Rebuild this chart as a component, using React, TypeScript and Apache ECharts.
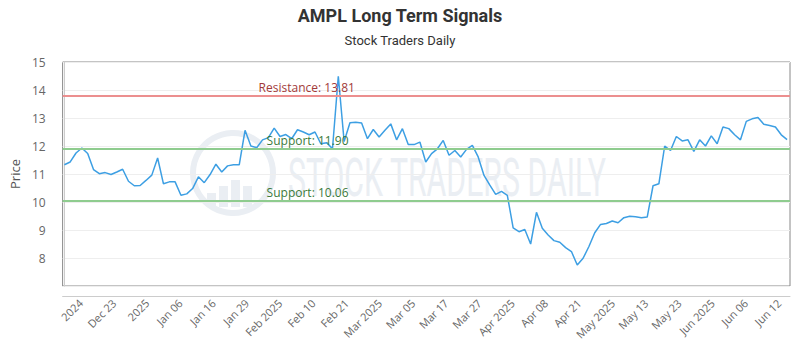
import React, { useEffect, useRef } from "react";
import * as echarts from "echarts";

const prices: number[] = [
  11.33, 11.43, 11.75, 11.93, 11.73, 11.16, 11.01, 11.05, 10.98, 11.07,
  11.17, 10.74, 10.58, 10.59, 10.77, 10.96, 11.57, 10.65, 10.72, 10.72,
  10.24, 10.29, 10.48, 10.9, 10.69, 10.98, 11.35, 11.07, 11.29, 11.33,
  11.33, 12.56, 12.0, 11.94, 12.22, 12.3, 12.64, 12.34, 12.41, 12.26,
  12.58, 12.5, 12.4, 12.5, 12.08, 12.12, 11.9, 14.49, 12.16, 12.83,
  12.85, 12.82, 12.26, 12.59, 12.32, 12.56, 12.79, 12.22, 12.62, 12.05,
  12.05, 12.14, 11.43, 11.73, 11.9, 12.2, 11.67, 11.84, 11.61, 11.88,
  12.02, 11.61, 10.95, 10.6, 10.27, 10.38, 10.24, 9.08, 8.94, 9.02,
  8.5, 9.63, 9.06, 8.82, 8.62, 8.56, 8.37, 8.23, 7.75, 7.99,
  8.41, 8.9, 9.2, 9.23, 9.32, 9.26, 9.44, 9.49, 9.47, 9.44,
  9.46, 10.58, 10.65, 12.0, 11.84, 12.34, 12.18, 12.22, 11.81, 12.22,
  12.0, 12.36, 12.08, 12.68, 12.62, 12.4, 12.22, 12.88, 12.97, 13.02,
  12.78, 12.73, 12.68, 12.4, 12.23,
];

const tickLabels: string[] = [
  "2024", "Dec 23", "2025", "Jan 06", "Jan 16", "Jan 29", "Feb 2025", "Feb 10",
  "Feb 21", "Mar 2025", "Mar 05", "Mar 17", "Mar 27", "Apr 2025", "Apr 08",
  "Apr 21", "May 2025", "May 13", "May 23", "Jun 2025", "Jun 06", "Jun 12",
];
const tickPositions: number[] = [
  2.8, 8.5, 14.2, 19.9, 25.6, 31.3, 37.0, 42.7, 48.4, 54.1, 59.8, 65.5,
  71.2, 76.9, 82.6, 88.3, 94.1, 99.8, 105.5, 111.2, 116.9, 122.6,
];

const resistance = 13.81;
const supports: number[] = [11.9, 10.06];

export default function App() {
  const ref = useRef<HTMLDivElement>(null);
  useEffect(() => {
    document.body.style.margin = "0";
    if (!ref.current) return;
    const chart = echarts.init(ref.current, null, { renderer: "svg" });
    const font = "'Open Sans', 'Noto Sans', sans-serif";
    chart.setOption({
      animation: false,
      backgroundColor: "#fff",
      textStyle: { fontFamily: font },
      title: {
        text: "AMPL Long Term Signals",
        subtext: "Stock Traders Daily",
        left: "center",
        top: 1,
        itemGap: 10,
        textStyle: {
          fontFamily: "'Liberation Sans Narrow', 'Roboto', sans-serif",
          fontSize: 18,
          fontWeight: "bold",
          color: "#333",
        },
        subtextStyle: {
          fontFamily: "'Liberation Sans Narrow', 'Roboto', sans-serif",
          fontSize: 13,
          color: "#333",
        },
      },
      graphic: [
        {
          type: "group",
          silent: true,
          z: -1,
          children: [
            {
              type: "circle",
              shape: { cx: 233, cy: 173, r: 40 },
              style: { fill: "none", stroke: "#eaeef3", lineWidth: 6 },
            },
            { type: "rect", shape: { x: 207, y: 193, width: 9, height: 14 }, style: { fill: "#eaeef3" } },
            { type: "rect", shape: { x: 219, y: 186, width: 9, height: 21 }, style: { fill: "#eaeef3" } },
            { type: "rect", shape: { x: 231, y: 180, width: 9, height: 27 }, style: { fill: "#eaeef3" } },
            { type: "rect", shape: { x: 243, y: 186, width: 9, height: 21 }, style: { fill: "#eaeef3" } },
            {
              type: "text",
              x: 288,
              y: 150,
              scaleX: 0.56,
              style: {
                text: "STOCK TRADERS DAILY",
                font: "54px 'Roboto', sans-serif",
                fill: "#eaeef3",
                textVerticalAlign: "top",
              },
            },
          ],
        },
      ],
      grid: {
        left: 60,
        top: 62,
        width: 730,
        height: 224,
        show: true,
        borderColor: "#888",
        borderWidth: 1,
        backgroundColor: "transparent",
      },
      xAxis: {
        type: "value",
        min: -0.3,
        max: 124.5,
        offset: 10,
        axisLine: { show: true, onZero: false, lineStyle: { color: "#ccc" } },
        axisTick: { show: false },
        splitLine: { show: false },
        axisLabel: {
          customValues: tickPositions,
          rotate: 45,
          margin: 5,
          fontSize: 11,
          color: "#666",
          formatter: (v: number) => {
            const i = tickPositions.findIndex((p) => Math.abs(p - v) < 0.05);
            return i >= 0 ? tickLabels[i] : "";
          },
        },
      },
      yAxis: {
        type: "value",
        min: 7,
        max: 15,
        interval: 1,
        offset: 10,
        name: "Price",
        nameLocation: "middle",
        nameGap: 30,
        nameTextStyle: { fontSize: 13, color: "#555" },
        axisLine: { show: true, lineStyle: { color: "#ccc" } },
        axisTick: { show: false },
        axisLabel: { showMinLabel: false, fontSize: 12, color: "#666", margin: 7 },
        splitLine: { show: true, lineStyle: { color: "#eee" } },
      },
      series: [
        {
          type: "line",
          data: prices.map((v, i) => [i, v]),
          showSymbol: false,
          lineStyle: { color: "#3d9fe3", width: 1.5 },
          itemStyle: { color: "#3d9fe3" },
          z: 3,
          markLine: {
            silent: true,
            symbol: "none",
            data: [
              {
                yAxis: resistance,
                lineStyle: { color: "#ec8f8f", width: 2, type: "solid" },
                label: {
                  formatter: "Resistance: " + resistance.toFixed(2),
                  position: "insideStartTop",
                  distance: [196, 2],
                  color: "#a23a3a",
                  fontSize: 12,
                },
              },
              ...supports.map((s) => ({
                yAxis: s,
                lineStyle: { color: "#8fcc8f", width: 2, type: "solid" },
                label: {
                  formatter: "Support: " + s.toFixed(2),
                  position: "insideStartTop",
                  distance: [204, 2],
                  color: "#3b7a3b",
                  fontSize: 12,
                },
              })),
            ],
          },
        },
      ],
    });
    return () => chart.dispose();
  }, []);
  return <div ref={ref} style={{ width: 800, height: 350 }} />;
}
